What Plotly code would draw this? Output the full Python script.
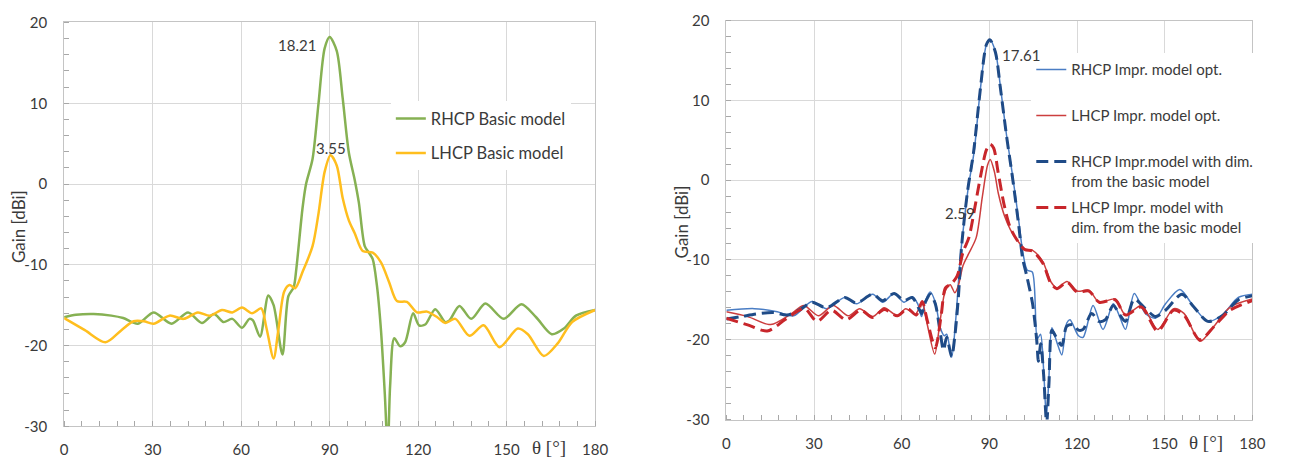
import plotly.graph_objects as go

# ---------------- data: left chart (basic model) ----------------
theta_rhcp_basic = [0, 4, 10, 16, 20, 25, 30.3, 36.4, 42, 46.7, 50.8, 54, 57, 60.3, 62.8, 64, 66.4,
                    69.2, 71, 74, 76, 77.8, 78.7, 80.8, 82, 84.2, 86.2, 88.3, 90, 92.4, 94.4, 96.5,
                    98.5, 99.9, 101.9, 103.3, 104.6, 106, 107.4, 108.7, 109.7, 110.5, 111.9, 113.9,
                    115.6, 118.3, 120.3, 122.4, 125.8, 129.2, 130.6, 134, 138, 142.8, 149, 155, 160,
                    165.3, 169.4, 173.5, 180]
gain_rhcp_basic = [-16.5, -16.2, -16.1, -16.3, -16.6, -17.3, -15.9, -17.3, -15.9, -17.2, -16.1, -17.1,
                   -16.7, -17.8, -16.7, -16.9, -18.9, -13.8, -15.0, -21.1, -13.9, -12.8, -10.5, -3.0,
                   0.0, 3.1, 9.9, 16.8, 18.21, 16.5, 10.7, 3.9, 0.5, -2.3, -7.7, -8.5, -9.3, -12.5,
                   -18.1, -26.0, -33.0, -25.0, -19.1, -20.1, -19.6, -16.0, -17.5, -17.4, -15.5, -17.1,
                   -16.9, -15.1, -16.7, -14.8, -16.7, -14.9, -16.5, -18.6, -17.9, -16.3, -15.6]

theta_lhcp_basic = [0, 7, 14, 19.4, 23.5, 27, 30.3, 35.7, 40.5, 45.3, 49.4, 53.5, 57, 60.3, 63.7, 66.8,
                    68.5, 71, 72.6, 74.6, 76.4, 78.3, 80.8, 84.2, 86.2, 88.3, 90.3, 92.4, 94.4, 96.5,
                    98.5, 101.2, 104.6, 107.4, 110.1, 112.8, 116.2, 119.6, 123, 126.5, 129.2, 132.6,
                    137.4, 142.2, 147.6, 153.8, 157.2, 162.6, 167.4, 172.2, 180]
gain_lhcp_basic = [-16.6, -18.1, -19.6, -18.1, -17.0, -17.0, -17.3, -16.3, -16.7, -15.9, -16.3, -15.6,
                   -15.9, -15.3, -16.0, -15.4, -17.7, -21.6, -18.1, -13.3, -12.5, -12.9, -10.9, -7.7,
                   -3.7, 1.5, 3.55, 2.3, -1.7, -4.5, -6.1, -8.3, -8.5, -9.7, -12.1, -14.5, -14.6,
                   -15.9, -15.8, -16.5, -17.2, -16.7, -18.8, -17.5, -20.2, -17.9, -18.6, -21.3, -19.7,
                   -17.1, -15.6]

# ---------------- data: right chart (improved model) ----------------
theta_rhcp_opt = [0, 9.6, 17.4, 23, 29.3, 34.3, 40.5, 44.5, 50.1, 53.5, 57.4, 60.8, 63.6, 65.5, 66.8,
                  68.1, 69.8, 71.5, 73.2, 74.6, 75.4, 77.1, 78.5, 80, 80.7, 82.8, 84.8, 86.9, 89, 90.2,
                  92.1, 93.8, 95.9, 97.9, 100, 101.4, 103, 104.7, 106.4, 107.5, 108.6, 109.5, 110.3,
                  111.4, 113.1, 114.8, 116.5, 117.6, 120.5, 122.1, 125.5, 128.9, 132.4, 134.5, 136.6,
                  139.6, 143.4, 146.9, 150.3, 155.2, 160, 164.8, 169.7, 175.2, 180]
gain_rhcp_opt = [-16.3, -16.1, -16.5, -17.0, -15.2, -16.1, -14.7, -15.5, -14.3, -15.3, -14.2, -15.3,
                 -14.6, -15.5, -17.1, -15.1, -14.0, -15.3, -18.5, -19.5, -19.3, -22.2, -17.5, -9.9,
                 -7.4, -0.9, 3.6, 11.3, 17.0, 17.61, 16.1, 11.7, 5.6, 0.7, -4.9, -8.9, -11.3, -11.5,
                 -19.9, -19.3, -23.9, -29.7, -25.5, -18.5, -20.3, -21.9, -17.9, -17.5, -19.5, -19.7,
                 -15.7, -18.7, -15.5, -17.0, -18.7, -14.2, -16.7, -17.3, -15.5, -13.7, -15.9, -17.7,
                 -16.9, -14.7, -14.3]

theta_lhcp_opt = [0, 7.3, 15.2, 22, 26.5, 31.5, 36.6, 41.7, 45.6, 50.1, 54, 58.5, 61.4, 64.7, 67, 68.7,
                  71.3, 73.2, 74.9, 76.6, 78.2, 79.4, 81, 82.8, 85.5, 87.6, 89.4, 90.3, 91.7, 93.1,
                  95.2, 97.2, 99.3, 102.1, 104.8, 108.3, 111, 113.1, 116.6, 120, 124.1, 127.6, 133.1,
                  136.6, 142.1, 147.6, 153.1, 156.6, 162.1, 166.9, 172.4, 180]
gain_lhcp_opt = [-16.5, -17.1, -18.1, -16.8, -15.7, -17.0, -15.7, -17.0, -16.1, -17.1, -16.0, -17.0,
                 -16.1, -16.8, -15.3, -18.0, -21.8, -17.5, -13.9, -13.1, -14.1, -13.2, -10.7, -9.3,
                 -7.2, -2.1, 1.9, 2.59, 1.1, -1.7, -4.5, -6.2, -7.4, -8.6, -8.8, -10.2, -12.7, -13.5,
                 -12.7, -13.9, -13.8, -15.3, -14.9, -16.9, -15.7, -18.7, -16.1, -16.7, -20.2, -18.3,
                 -15.9, -14.9]

theta_rhcp_dim = [0, 5, 11.8, 16.3, 20.8, 25.3, 29.3, 34.3, 40.5, 44.5, 50.1, 53.5, 57.4, 60.8, 63.6,
                  65.9, 66.8, 68.1, 69.8, 71.5, 73.2, 74.3, 75.4, 77.1, 78.2, 79.4, 80.5, 82.5, 84.6,
                  86.8, 89, 90.2, 92.1, 93.8, 95.9, 97.9, 100, 101.4, 102.8, 104.8, 106.2, 106.8, 107.6,
                  108.6, 109.6, 110.4, 111.4, 112.6, 114.8, 116.5, 118.8, 120.5, 122.1, 125, 127.5,
                  129.7, 132.4, 134.5, 136.6, 139.6, 143.4, 146.9, 150.3, 155.9, 160, 164.8, 169.7,
                  175.2, 180]
gain_rhcp_dim = [-17.4, -17.1, -16.7, -16.6, -16.9, -16.2, -15.3, -16.0, -14.7, -15.4, -14.3, -15.1,
                 -14.2, -15.1, -14.7, -16.1, -16.7, -15.3, -14.3, -15.5, -19.1, -21.3, -19.7, -22.1,
                 -19.5, -14.7, -8.3, -1.5, 3.5, 11.0, 17.0, 17.61, 16.0, 11.5, 5.5, 0.4, -5.5, -9.8,
                 -12.0, -15.5, -20.0, -22.7, -20.5, -24.5, -30.5, -25.5, -18.8, -19.5, -20.7, -18.3,
                 -18.1, -18.8, -18.7, -16.7, -17.7, -17.5, -15.7, -16.8, -17.7, -14.9, -16.1, -17.1,
                 -16.3, -14.3, -15.9, -17.7, -17.0, -15.0, -14.5]

theta_lhcp_dim = [0, 7, 14, 20, 25, 27, 31, 36, 41, 46, 50, 54, 58.5, 62, 65, 67, 68.7, 71.5, 73.5, 75,
                  77, 79, 81, 83, 85, 87, 89, 90.3, 91.5, 93, 95, 97, 99.3, 102.1, 104.8, 108.3, 111,
                  113.1, 116.6, 120, 124.1, 127.6, 133.1, 136.6, 142, 147.6, 153, 156.6, 162, 167,
                  172.4, 180]
gain_lhcp_dim = [-17.3, -18.1, -18.9, -17.5, -16.3, -16.1, -17.7, -16.3, -17.5, -16.3, -17.2, -16.2,
                 -17.0, -16.1, -16.9, -15.2, -17.5, -21.0, -17.0, -13.5, -13.0, -12.0, -9.0, -7.2,
                 -3.5, 0.5, 3.8, 4.5, 4.0, 1.0, -3.0, -5.8, -7.4, -8.7, -8.9, -10.4, -12.9, -13.6,
                 -12.8, -14.0, -13.9, -15.3, -15.0, -16.9, -15.9, -18.9, -16.3, -16.9, -20.0, -18.3,
                 -16.3, -15.1]

x_ticks = [0, 30, 60, 90, 120, 150, 180]
x_tick_labels = ["0", "30", "60", "90", "120", "150", "180"]
y_ticks = [-30, -20, -10, 0, 10, 20]
y_tick_labels = ["-30", "-20", "-10", "0", "10", "20"]
x_minor_step = 6
y_minor_step = 2

names_left = ["RHCP Basic model", "LHCP Basic model"]
names_right = ["RHCP Impr. model opt.<br>\u00a0",
               "LHCP Impr. model opt.<br>\u00a0",
               "RHCP Impr.model with dim.<br>from the basic model",
               "LHCP Impr. model with<br>dim. from the basic model"]

# ---------------- figure ----------------
W, H = 1290, 466
FONT = "Lato"
TXT = "#3a3a3a"
GRID = "#d9d9d9"
AXL = "#c4c4c4"
MINOR = "#a8a8a8"

fig = go.Figure()

fig.add_trace(go.Scatter(x=theta_rhcp_basic, y=gain_rhcp_basic, mode="lines", name=names_left[0],
                         line=dict(color="#86B153", width=2.5, shape="spline", smoothing=0.8),
                         xaxis="x", yaxis="y", legend="legend", legendgroup="a"))
fig.add_trace(go.Scatter(x=theta_lhcp_basic, y=gain_lhcp_basic, mode="lines", name=names_left[1],
                         line=dict(color="#FFBE1E", width=2.5, shape="spline", smoothing=0.8),
                         xaxis="x", yaxis="y", legend="legend", legendgroup="b"))

fig.add_trace(go.Scatter(x=theta_rhcp_opt, y=gain_rhcp_opt, mode="lines", name=names_right[0],
                         line=dict(color="#4A7DC4", width=1.5, shape="spline", smoothing=0.8),
                         xaxis="x2", yaxis="y2", legend="legend2", legendgroup="c"))
fig.add_trace(go.Scatter(x=theta_lhcp_opt, y=gain_lhcp_opt, mode="lines", name=names_right[1],
                         line=dict(color="#CC3E3E", width=1.5, shape="spline", smoothing=0.8),
                         xaxis="x2", yaxis="y2", legend="legend2", legendgroup="d"))
fig.add_trace(go.Scatter(x=theta_rhcp_dim, y=gain_rhcp_dim, mode="lines", name=names_right[2],
                         line=dict(color="#1F4B87", width=3, dash="12px,6px", shape="spline", smoothing=0.8),
                         xaxis="x2", yaxis="y2", legend="legend2", legendgroup="e"))
fig.add_trace(go.Scatter(x=theta_lhcp_dim, y=gain_lhcp_dim, mode="lines", name=names_right[3],
                         line=dict(color="#C8262B", width=3, dash="12px,6px", shape="spline", smoothing=0.8),
                         xaxis="x2", yaxis="y2", legend="legend2", legendgroup="f"))

def xax(domain, anchor):
    return dict(domain=domain, anchor=anchor, range=[x_ticks[0], x_ticks[-1]],
                tickmode="array", tickvals=x_ticks, ticktext=x_tick_labels,
                showgrid=True, gridcolor=GRID, gridwidth=1, zeroline=False,
                showline=True, linecolor=AXL, linewidth=1, mirror=True,
                ticks="outside", ticklen=0, tickcolor="rgba(0,0,0,0)", ticklabelstandoff=10,
                tickfont=dict(family=FONT, size=15, color=TXT),
                minor=dict(tickmode="linear", tick0=0, dtick=x_minor_step, ticks="inside",
                           ticklen=5, tickwidth=1, tickcolor=MINOR, showgrid=False))

def yax(domain, anchor):
    return dict(domain=domain, anchor=anchor, range=[y_ticks[0], y_ticks[-1]],
                tickmode="array", tickvals=y_ticks, ticktext=y_tick_labels,
                showgrid=True, gridcolor=GRID, gridwidth=1, zeroline=False,
                showline=True, linecolor=AXL, linewidth=1, mirror=True,
                ticks="outside", ticklen=0, tickcolor="rgba(0,0,0,0)", ticklabelstandoff=13,
                tickfont=dict(family=FONT, size=15, color=TXT),
                minor=dict(tickmode="linear", tick0=0, dtick=y_minor_step, ticks="inside",
                           ticklen=5, tickwidth=1, tickcolor=MINOR, showgrid=False))

fig.update_layout(
    width=W, height=H, margin=dict(l=0, r=0, t=0, b=0),
    paper_bgcolor="white", plot_bgcolor="white",
    xaxis=xax([61 / W, 599 / W], "y"),
    yaxis=yax([1 - 433 / H, 1 - 13 / H], "x"),
    xaxis2=xax([732 / W, 1265 / W], "y2"),
    yaxis2=yax([1 - 426 / H, 1 - 11 / H], "x2"),
    legend=dict(x=392 / W, y=1 - 95 / H, xanchor="left", yanchor="top", bgcolor="white",
                font=dict(family=FONT, size=16.5, color=TXT), tracegroupgap=10),
    legend2=dict(x=1041 / W, y=1 - 45 / H, xanchor="left", yanchor="top", bgcolor="white",
                 font=dict(family=FONT, size=15, color=TXT), tracegroupgap=4, valign="top"),
    showlegend=True,
)

ann_font = dict(family=FONT, size=15, color=TXT)
annotations = [
    dict(x=90, y=18.21, xref="x", yref="y", text="18.21", showarrow=False, xanchor="right",
         yanchor="middle", xshift=-12, yshift=-8, font=ann_font),
    dict(x=90.3, y=3.55, xref="x", yref="y", text="3.55", showarrow=False, xanchor="center",
         yanchor="middle", yshift=7, font=ann_font),
    dict(x=90.2, y=17.61, xref="x2", yref="y2", text="17.61", showarrow=False, xanchor="left",
         yanchor="middle", xshift=10, yshift=-15, font=ann_font),
    dict(x=90.3, y=2.59, xref="x2", yref="y2", text="2.59", showarrow=False, xanchor="right",
         yanchor="middle", xshift=-13, yshift=-54, font=ann_font),
    dict(x=15 / W, y=1 - 225 / H, xref="paper", yref="paper", text="Gain [dBi]", textangle=-90,
         showarrow=False, xanchor="center", yanchor="middle",
         font=dict(family=FONT, size=17, color=TXT)),
    dict(x=687 / W, y=1 - 220 / H, xref="paper", yref="paper", text="Gain [dBi]", textangle=-90,
         showarrow=False, xanchor="center", yanchor="middle",
         font=dict(family=FONT, size=17, color=TXT)),
    dict(x=552 / W, y=1 - 455 / H, xref="paper", yref="paper", text="θ [°]", showarrow=False,
         xanchor="center", yanchor="middle",
         font=dict(family="Liberation Serif", size=19, color=TXT)),
    dict(x=1218 / W, y=1 - 450 / H, xref="paper", yref="paper", text="θ [°]", showarrow=False,
         xanchor="center", yanchor="middle",
         font=dict(family="Liberation Serif", size=19, color=TXT)),
]
fig.update_layout(annotations=annotations)

fig.write_html("out.html")
